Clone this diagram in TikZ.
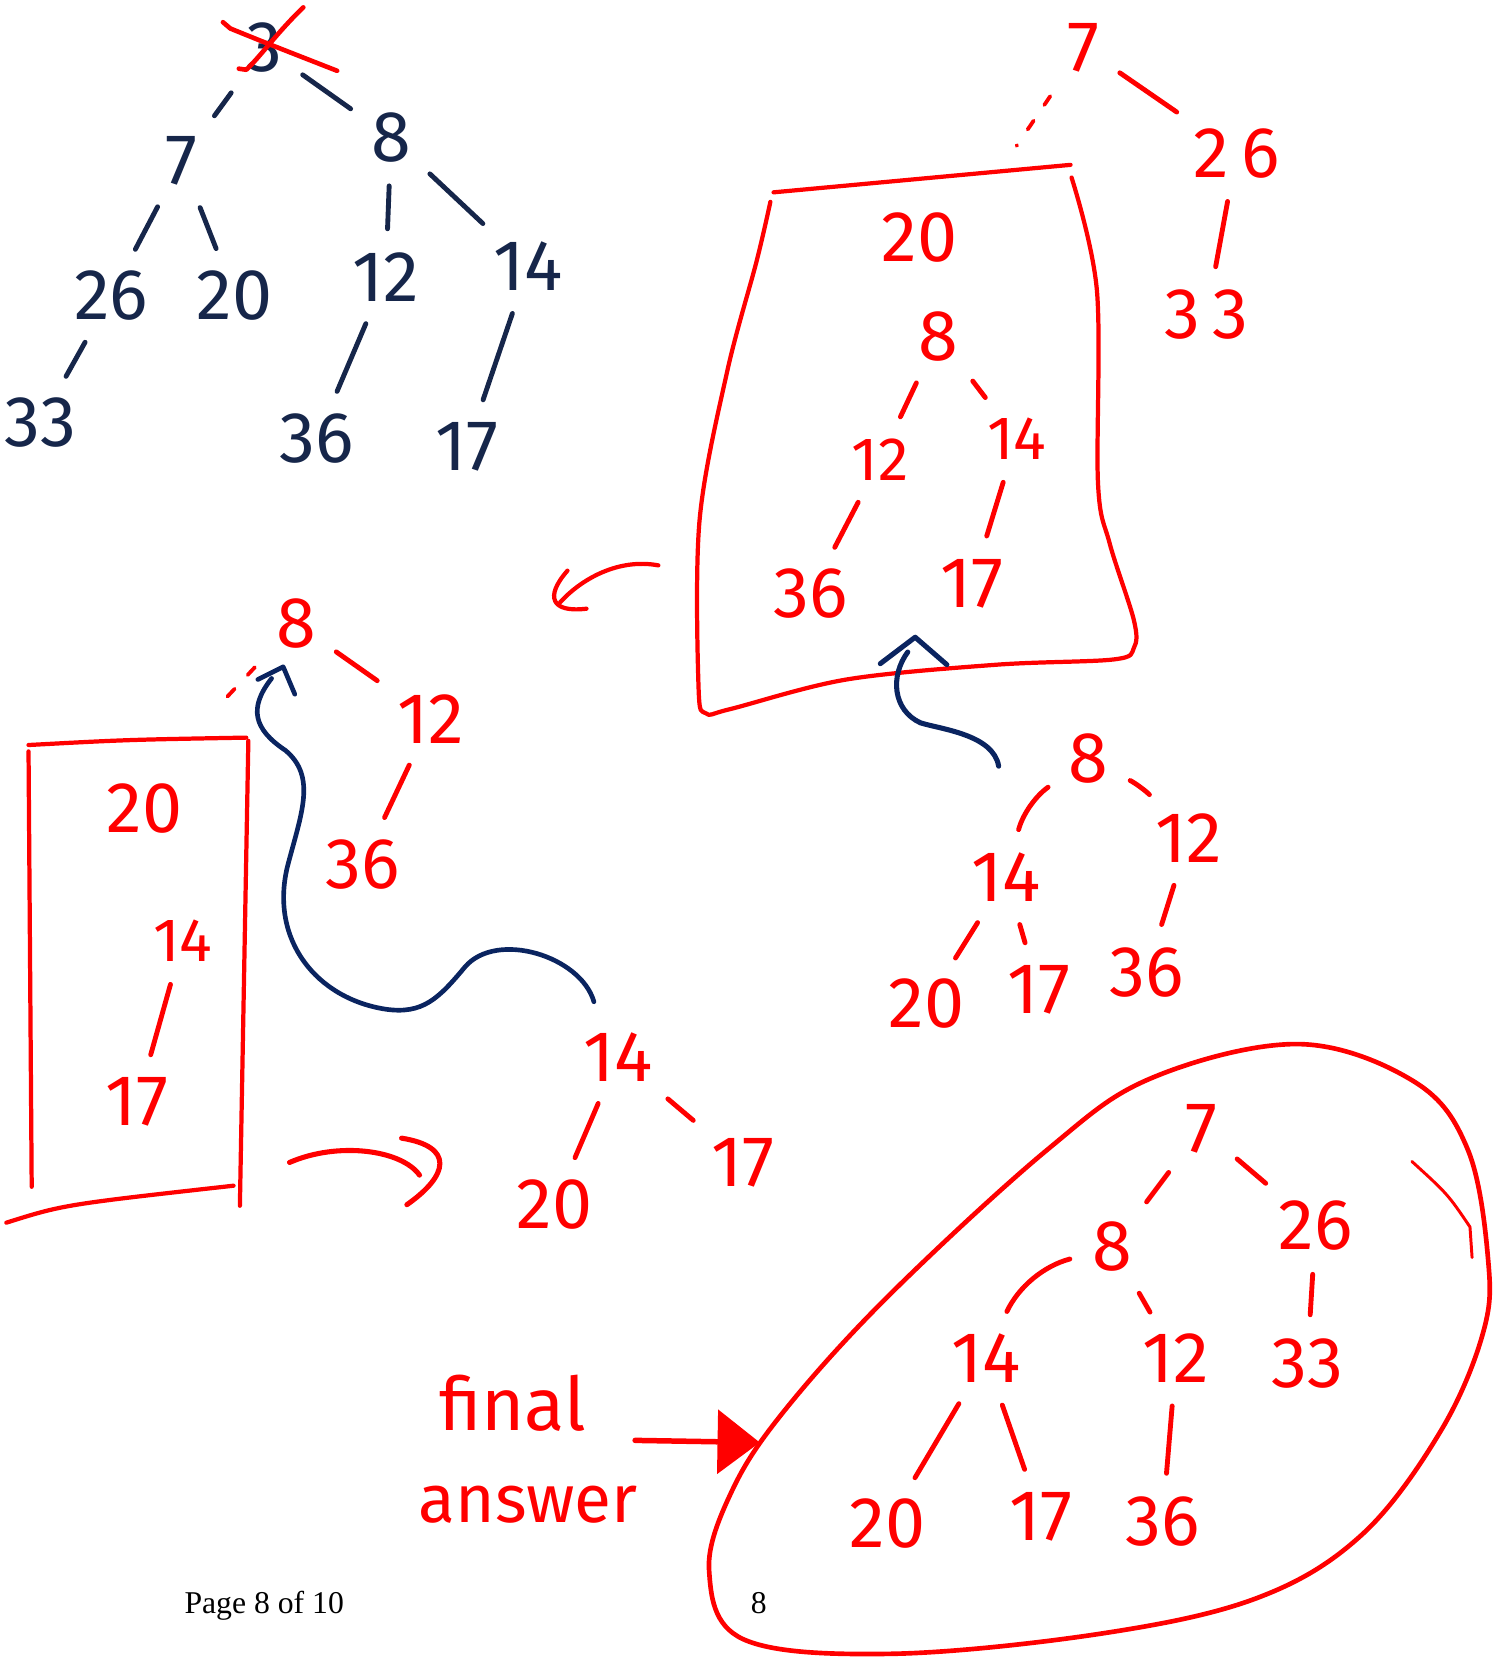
\documentclass[tikz,border=0pt]{standalone}
\usepackage{fontspec}
\newfontfamily\hand{Fira Sans}
\newfontfamily\pagefont{Liberation Serif}
\usetikzlibrary{arrows.meta}
\definecolor{ink}{RGB}{22,38,74}
\definecolor{arrowink}{RGB}{10,36,96}
\definecolor{pen}{RGB}{255,0,0}
\tikzset{
  num/.style={font=\hand\fontsize{34}{34}\selectfont, inner sep=3pt},
  snum/.style={font=\hand\fontsize{29}{29}\selectfont, inner sep=3pt},
  stroke/.style={line width=2.3pt, shorten <=8pt, shorten >=8pt},
  dots/.style={line width=1.8pt, dash pattern=on 5pt off 9pt, shorten <=10pt},
  box/.style={line width=2pt},
}
\begin{document}
\begin{tikzpicture}[x=0.5pt,y=-0.5pt,line cap=round,line join=round]
\useasboundingbox (0,0) rectangle (1414,1568);

% first heap, crossed-out root
\begin{scope}[ink, every node/.style=num]
  \node (a3) at (250,45) {3};
  \node (a7) at (172,152) {7};
  \node (a8) at (370,130) {8};
  \node (a26) at (105,280) {26};
  \node (a20) at (222,280) {20};
  \node (a12) at (365,262) {12};
  \node (a14) at (500,252) {14};
  \node (a33) at (38,400) {33};
  \node (a36) at (300,415) {36};
  \node (a17) at (442,423) {17};
  \foreach \p/\c in {a3/a7,a3/a8,a7/a26,a7/a20,a8/a12,a8/a14,a26/a33,a12/a36,a14/a17}
    \draw[stroke] (\p) -- (\c);
\end{scope}
\draw[pen,line width=2.2pt] (211,21) -- (218,27) .. controls (250,40) .. (319,67);
\draw[pen,line width=2.2pt] (287,7) .. controls (262,31) and (246,54) .. (233,66) -- (226,65);

% top right: 7 - 26 - 33 and the cut-off part
\begin{scope}[pen]
  \node[num] (b7) at (1025,45) {7};
  \node[num] (b26) at (1170,145) {2\,6};
  \node[num] (b33) at (1142,298) {3\,3};
  \coordinate (bdot) at (962,138);
  \draw[stroke] (b7) -- (b26);
  \draw[stroke] (b26) -- (b33);
  \draw[dots] (b7) -- (bdot);
  \draw[box] (732,182) -- (1013,156);
  \draw[box] plot[smooth,tension=0.55] coordinates {(1014,168) (1038,275) (1039,457) (1050,514)
    (1073,587) (1073,613) (1054,624) (943,629) (801,643) (691,671) (668,675) (661,650)
    (662,492) (688,352) (716,247) (729,191)};
  \node[num] (b20) at (870,225) {20};
  \node[num] (b8) at (888,318) {8};
  \node[snum] (b12) at (833,435) {12};
  \node[snum] (b14) at (962,415) {14};
  \node[num] (b36) at (767,562) {36};
  \node[num] (b17) at (920,552) {17};
  \foreach \p/\c in {b8/b12,b8/b14,b12/b36,b14/b17}
    \draw[stroke] (\p) -- (\c);
  % arrow to the left
  \coordinate (larrS) at (623,535);
  \coordinate (larrE) at (530,570);
  \draw[line width=2pt] (larrS) .. controls (585,528) and (550,548) .. (larrE);
  \draw[line width=2pt] (537,540) .. controls (515,565) and (522,580) .. (555,576);
\end{scope}

% second heap after removal
\begin{scope}[pen, every node/.style=num]
  \node (c8) at (1030,718) {8};
  \node (c12) at (1125,793) {12};
  \node (c14) at (952,830) {14};
  \node (c20) at (877,950) {20};
  \node (c17) at (983,937) {17};
  \node (c36) at (1085,920) {36};
  \draw[stroke] (c8) to[bend right=20] (c14);
  \draw[stroke] (c8) to[bend left=10] (c12);
  \foreach \p/\c in {c14/c20,c14/c17,c12/c36}
    \draw[stroke] (\p) -- (\c);
\end{scope}
\coordinate (upS) at (945,725);
\coordinate (upE) at (859,617);
\draw[arrowink,line width=2.4pt] (upS) .. controls (940,695) and (890,690) .. (871,684)
  .. controls (845,672) and (842,640) .. (upE);
\draw[arrowink,line width=2.4pt] (833,628) -- (866,603) -- (896,629);

% middle left
\begin{scope}[pen]
  \node[num] (d8) at (280,590) {8};
  \node[num] (d12) at (408,680) {12};
  \node[num] (d36) at (343,818) {36};
  \coordinate (ddot) at (205,670);
  \draw[stroke] (d8) -- (d12);
  \draw[stroke] (d12) -- (d36);
  \draw[dots] (d8) -- (ddot);
  \draw[box] (27,705) .. controls (120,700) .. (233,698);
  \draw[box] (27,711) -- (30,1123);
  \draw[box] (235,701) -- (227,1141);
  \draw[box] (6,1157) .. controls (60,1140) .. (221,1122);
  \node[num] (d20) at (137,765) {20};
  \node[snum] (d14) at (173,890) {14};
  \node[num] (d17) at (130,1043) {17};
  \draw[stroke] (d14) -- (d17);
  % curved arrow to the right
  \coordinate (rarrS) at (274,1100);
  \coordinate (rarrE) at (397,1112);
  \draw[line width=2.4pt] (rarrS) .. controls (320,1080) and (380,1088) .. (rarrE);
  \draw[line width=2.4pt] (380,1077) .. controls (430,1085) and (425,1112) .. (385,1140);
\end{scope}
\coordinate (lS) at (562,948);
\coordinate (lE) at (257,642);
\draw[arrowink,line width=2.2pt] (lS) .. controls (550,905) and (470,880) .. (440,915)
  .. controls (415,945) and (400,960) .. (365,955)
  .. controls (300,945) and (255,890) .. (272,820)
  .. controls (285,770) and (300,735) .. (270,710)
  .. controls (240,690) and (235,670) .. (lE);
\draw[arrowink,line width=2.2pt] (244,643) -- (268,631) -- (279,657);

% 14 - 17 - 20
\begin{scope}[pen, every node/.style=num]
  \node (e14) at (585,1000) {14};
  \node (e17) at (703,1100) {17};
  \node (e20) at (525,1140) {20};
  \draw[stroke] (e14) -- (e17);
  \draw[stroke] (e14) -- (e20);
\end{scope}

% final heap
\begin{scope}[pen, every node/.style=num]
  \node (f7) at (1137,1068) {7};
  \node (f8) at (1053,1180) {8};
  \node (f26) at (1245,1160) {26};
  \node (f14) at (933,1285) {14};
  \node (f12) at (1113,1285) {12};
  \node (f33) at (1237,1290) {33};
  \node (f20) at (840,1442) {20};
  \node (f17) at (985,1435) {17};
  \node (f36) at (1100,1440) {36};
  \draw[stroke] (f8) to[bend right=25] (f14);
  \foreach \p/\c in {f7/f8,f7/f26,f8/f12,f26/f33,f14/f20,f14/f17,f12/f36}
    \draw[stroke] (\p) -- (\c);
  \draw[line width=2.2pt] plot[smooth cycle,tension=0.6] coordinates {(1229,988) (1339,1024)
    (1389,1088) (1408,1190) (1404,1259) (1364,1353) (1289,1452) (1190,1512) (1041,1546)
    (842,1565) (703,1551) (671,1486) (693,1410) (743,1334) (842,1225) (991,1088) (1090,1020)};
  \draw[line width=1.4pt] (1336,1099) .. controls (1370,1130) .. (1391,1161) -- (1393,1190);
  \node[font=\hand\fontsize{35}{35}\selectfont] (fnl) at (485,1328) {final};
  \node[font=\hand\fontsize{32}{32}\selectfont] (ans) at (500,1424) {answer};
  \coordinate (finS) at (601,1363);
  \coordinate (finE) at (719,1365);
  \draw[line width=2.6pt,-{Triangle[length=20pt,width=30pt]}] (finS) -- (finE);
\end{scope}

% page footer
\node[font=\pagefont\fontsize{15}{15}\selectfont, anchor=base] (pg) at (250,1527) {Page 8 of 10};
\node[font=\pagefont\fontsize{15}{15}\selectfont, anchor=base] (pgn) at (718,1527) {8};
\end{tikzpicture}
\end{document}
